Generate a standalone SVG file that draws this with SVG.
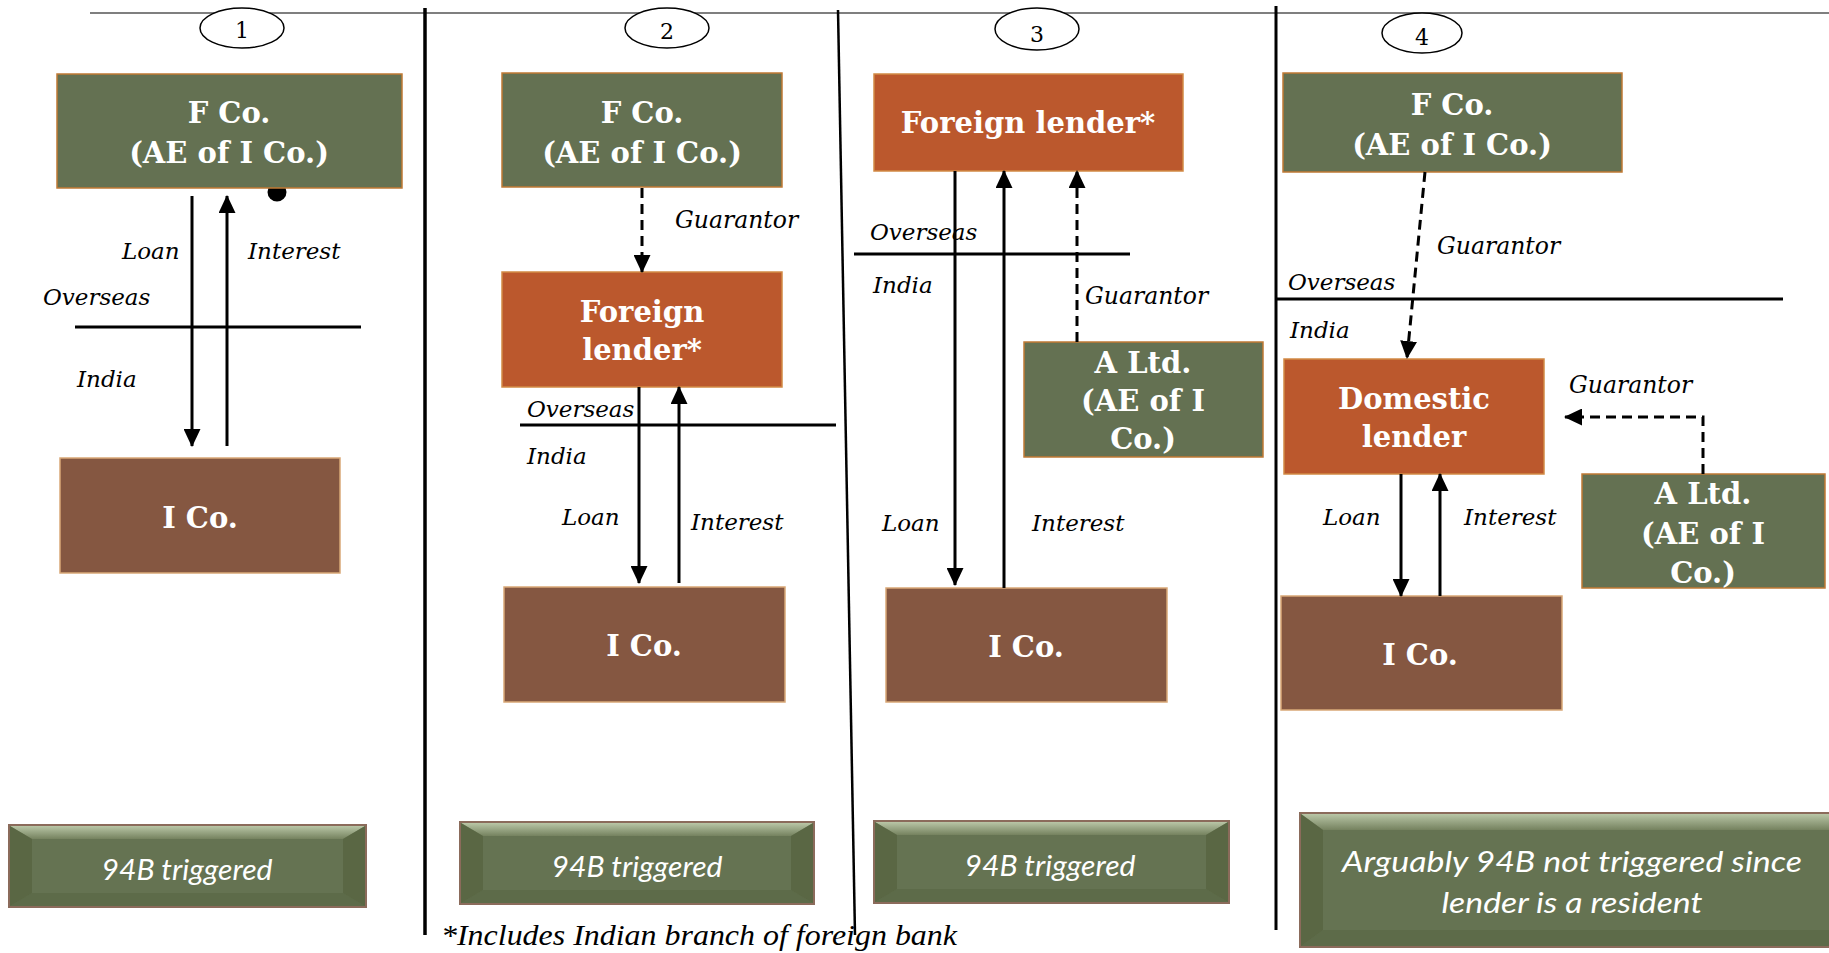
<svg xmlns="http://www.w3.org/2000/svg" width="1829" height="953" viewBox="0 0 1829 953">
<style>
.g{fill:#647152;stroke:#c07a35;stroke-width:1.5}
.o{fill:#bb582d;stroke:#d28a45;stroke-width:1.5}
.b{fill:#855741;stroke:#d9a877;stroke-width:1.5}
.nt{font-family:"DejaVu Serif","Liberation Serif",serif;font-weight:bold;font-size:29px;fill:#fff;text-anchor:middle}
.lb{font-family:"DejaVu Serif","Liberation Serif",serif;font-style:italic;font-size:23px;fill:#000}
.gu{font-family:"DejaVu Serif","Liberation Serif",serif;font-style:italic;font-size:23.5px;fill:#000}
.num{font-family:"DejaVu Serif","Liberation Serif",serif;font-size:22px;fill:#000;text-anchor:middle}
.el{fill:#fff;stroke:#000;stroke-width:1.5}
.sol{stroke:#000;stroke-width:3;fill:none;marker-end:url(#ah)}
.dsh{stroke:#000;stroke-width:3;fill:none;stroke-dasharray:10,6;marker-end:url(#ah)}
.hl{stroke:#000;stroke-width:3}
.sep{stroke:#000;fill:none}
.btn{fill:#657352;stroke:#8b6b5b;stroke-width:2}
.btop{fill:url(#topg)}
.bside{fill:#56623f;opacity:0.7}
.bbot{fill:#55613f;opacity:0.45}
.bt{font-family:Lato,"Liberation Sans",sans-serif;font-style:italic;font-size:28px;fill:#fff;text-anchor:middle}
.fn{font-family:"Liberation Serif",serif;font-style:italic;font-size:30px;fill:#000}
</style>
<defs>
<marker id="ah" markerUnits="userSpaceOnUse" markerWidth="18" markerHeight="17" refX="17" refY="8.5" orient="auto">
<path d="M0,0 L18,8.5 L0,17 z" fill="#000"/>
</marker>
<linearGradient id="topg" x1="0" y1="0" x2="0" y2="1">
<stop offset="0" stop-color="#b9c6a6"/>
<stop offset="1" stop-color="#75825f"/>
</linearGradient>
</defs>
<rect width="1829" height="953" fill="#fff"/>

<g id="frame">
<line x1="90" y1="13" x2="1829" y2="13" stroke="#7f7f7f" stroke-width="2"/>
<line class="sep" x1="425" y1="8" x2="425" y2="935" stroke-width="3.5"/>
<line class="sep" x1="838" y1="10" x2="855" y2="935" stroke-width="2.5"/>
<line class="sep" x1="1276" y1="6" x2="1276" y2="930" stroke-width="3"/>
<line class="hl" x1="75" y1="327" x2="361" y2="327"/>
<line class="hl" x1="520" y1="425" x2="836" y2="425"/>
<line class="hl" x1="854" y1="254" x2="1130" y2="254"/>
<line class="hl" x1="1276" y1="299" x2="1783" y2="299"/>
</g>

<g id="badges">
<ellipse class="el" cx="242" cy="28" rx="42" ry="20"/><text class="num" x="242" y="38">1</text>
<ellipse class="el" cx="667" cy="28" rx="42" ry="20"/><text class="num" x="667" y="39">2</text>
<ellipse class="el" cx="1037" cy="29" rx="42" ry="21"/><text class="num" x="1037" y="42">3</text>
<ellipse class="el" cx="1422" cy="33" rx="40" ry="20"/><text class="num" x="1422" y="45">4</text>
</g>

<g id="dot"><circle cx="277" cy="192" r="9.5" fill="#000"/></g>

<g id="p1-fco"><rect class="g" x="57" y="74" width="345" height="114"/><text class="nt" x="229" y="123">F Co.</text><text class="nt" x="229" y="163">(AE of I Co.)</text></g>
<g id="p1-ico"><rect class="b" x="60" y="458" width="280" height="115"/><text class="nt" x="200" y="528">I Co.</text></g>

<g id="p2-fco"><rect class="g" x="502" y="73" width="280" height="114"/><text class="nt" x="642" y="123">F Co.</text><text class="nt" x="642" y="163">(AE of I Co.)</text></g>
<g id="p2-fl"><rect class="o" x="502" y="272" width="280" height="115"/><text class="nt" x="642" y="322">Foreign</text><text class="nt" x="642" y="360">lender*</text></g>
<g id="p2-ico"><rect class="b" x="504" y="587" width="281" height="115"/><text class="nt" x="644" y="656">I Co.</text></g>

<g id="p3-fl"><rect class="o" x="874" y="74" width="309" height="97"/><text class="nt" x="1028" y="133">Foreign lender*</text></g>
<g id="p3-altd"><rect class="g" x="1024" y="342" width="239" height="115"/><text class="nt" x="1143" y="373">A Ltd.</text><text class="nt" x="1143" y="411">(AE of I</text><text class="nt" x="1143" y="449">Co.)</text></g>
<g id="p3-ico"><rect class="b" x="886" y="588" width="281" height="114"/><text class="nt" x="1026" y="657">I Co.</text></g>

<g id="p4-fco"><rect class="g" x="1283" y="73" width="339" height="99"/><text class="nt" x="1452" y="115">F Co.</text><text class="nt" x="1452" y="155">(AE of I Co.)</text></g>
<g id="p4-dl"><rect class="o" x="1284" y="359" width="260" height="115"/><text class="nt" x="1414" y="409">Domestic</text><text class="nt" x="1414" y="447">lender</text></g>
<g id="p4-altd"><rect class="g" x="1582" y="474" width="243" height="114"/><text class="nt" x="1703" y="504">A Ltd.</text><text class="nt" x="1703" y="544">(AE of I</text><text class="nt" x="1703" y="583">Co.)</text></g>
<g id="p4-ico"><rect class="b" x="1281" y="596" width="281" height="114"/><text class="nt" x="1420" y="665">I Co.</text></g>

<g id="connectors">
<line class="sol" x1="192" y1="196" x2="192" y2="446"/>
<line class="sol" x1="227" y1="446" x2="227" y2="196"/>
<line class="dsh" x1="642" y1="188" x2="642" y2="272"/>
<line class="sol" x1="639" y1="387" x2="639" y2="583"/>
<line class="sol" x1="679" y1="583" x2="679" y2="387"/>
<line class="sol" x1="955" y1="171" x2="955" y2="585"/>
<line class="sol" x1="1004" y1="588" x2="1004" y2="171"/>
<line class="dsh" x1="1077" y1="342" x2="1077" y2="171"/>
<line class="dsh" x1="1425" y1="172" x2="1407" y2="358"/>
<line class="sol" x1="1401" y1="474" x2="1401" y2="596"/>
<line class="sol" x1="1440" y1="596" x2="1440" y2="474"/>
<path class="dsh" d="M1703,474 V417 H1565"/>
</g>

<g id="labels">
<text class="lb" x="122" y="259">Loan</text>
<text class="lb" x="248" y="259">Interest</text>
<text class="lb" x="43" y="305">Overseas</text>
<text class="lb" x="77" y="387">India</text>
<text class="gu" x="675" y="228">Guarantor</text>
<text class="lb" x="527" y="417">Overseas</text>
<text class="lb" x="527" y="464">India</text>
<text class="lb" x="562" y="525">Loan</text>
<text class="lb" x="691" y="530">Interest</text>
<text class="lb" x="870" y="240">Overseas</text>
<text class="lb" x="873" y="293">India</text>
<text class="gu" x="1085" y="304">Guarantor</text>
<text class="lb" x="882" y="531">Loan</text>
<text class="lb" x="1032" y="531">Interest</text>
<text class="gu" x="1437" y="254">Guarantor</text>
<text class="lb" x="1288" y="290">Overseas</text>
<text class="lb" x="1290" y="338">India</text>
<text class="gu" x="1569" y="393">Guarantor</text>
<text class="lb" x="1323" y="525">Loan</text>
<text class="lb" x="1464" y="525">Interest</text>
</g>

<g id="btn1">
<rect class="btn" x="9" y="825" width="357" height="82"/>
<polygon class="btop" points="10,826 365,826 343,839 32,839"/>
<polygon class="bside" points="10,826 32,839 32,893 10,906"/>
<polygon class="bside" points="365,826 343,839 343,893 365,906"/>
<polygon class="bbot" points="10,906 32,893 343,893 365,906"/>
<text class="bt" x="187" y="880" textLength="171" lengthAdjust="spacingAndGlyphs">94B triggered</text>
</g>
<g id="btn2">
<rect class="btn" x="460" y="822" width="354" height="82"/>
<polygon class="btop" points="461,823 813,823 791,836 483,836"/>
<polygon class="bside" points="461,823 483,836 483,890 461,903"/>
<polygon class="bside" points="813,823 791,836 791,890 813,903"/>
<polygon class="bbot" points="461,903 483,890 791,890 813,903"/>
<text class="bt" x="637" y="877" textLength="171" lengthAdjust="spacingAndGlyphs">94B triggered</text>
</g>
<g id="btn3">
<rect class="btn" x="874" y="821" width="355" height="82"/>
<polygon class="btop" points="875,822 1228,822 1206,835 897,835"/>
<polygon class="bside" points="875,822 897,835 897,889 875,902"/>
<polygon class="bside" points="1228,822 1206,835 1206,889 1228,902"/>
<polygon class="bbot" points="875,902 897,889 1206,889 1228,902"/>
<text class="bt" x="1050" y="876" textLength="171" lengthAdjust="spacingAndGlyphs">94B triggered</text>
</g>
<g id="btn4">
<rect class="btn" x="1300" y="813" width="540" height="134"/>
<polygon class="btop" points="1301,814 1829,814 1829,830 1323,830"/>
<polygon class="bside" points="1301,814 1323,830 1323,930 1301,946"/>
<polygon class="bbot" points="1301,946 1323,930 1829,930 1829,946"/>
<text class="bt" x="1572" y="872" textLength="460" lengthAdjust="spacingAndGlyphs">Arguably 94B  not triggered since</text>
<text class="bt" x="1572" y="913" textLength="261" lengthAdjust="spacingAndGlyphs">lender is a resident</text>
</g>

<g id="footnote"><text class="fn" x="441" y="945" textLength="516" lengthAdjust="spacingAndGlyphs">*Includes Indian branch of foreign bank</text></g>
</svg>
